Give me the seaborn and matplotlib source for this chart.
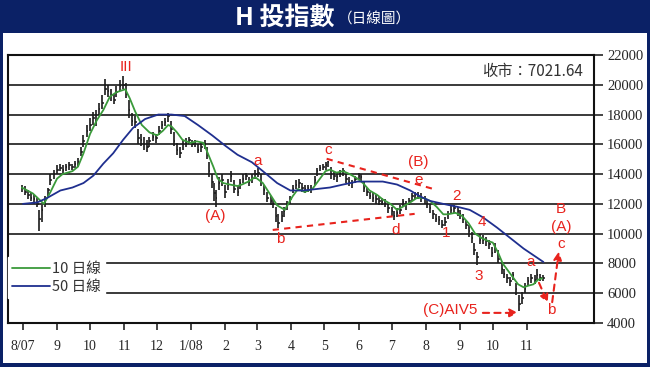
import matplotlib
matplotlib.use("Agg")
import matplotlib.pyplot as plt
import matplotlib.dates as mdates
import matplotlib.ticker as mticker
from matplotlib.patches import Rectangle
import seaborn as sns
import pandas as pd

# ── Data ──────────────────────────────────────────────────────────────────────
START = pd.Timestamp("2007-08-01")
MONTHS = pd.date_range("2007-08-01", "2008-11-01", freq="MS")

# price bars: calendar-day offset from 1 Aug 2007, close / high / low
BAR_DAY = [
    -1, 2, 5, 7, 10, 13, 15, 17, 20, 23,
    25, 28, 31, 34, 36, 39, 42, 45, 47, 50,
    53, 55, 58, 61, 64, 66, 69, 72, 75, 77,
    80, 83, 85, 88, 91, 94, 96, 99, 102, 105,
    107, 110, 113, 115, 118, 121, 124, 126, 129, 132,
    135, 137, 140, 143, 145, 148, 151, 154, 156, 159,
    162, 165, 167, 169, 172, 174, 175, 178, 181, 184,
    186, 189, 192, 195, 197, 200, 203, 205, 208, 211,
    214, 216, 219, 222, 225, 227, 230, 232, 235, 237,
    240, 243, 245, 248, 251, 254, 256, 259, 262, 265,
    267, 270, 273, 275, 277, 280, 283, 285, 288, 291,
    294, 296, 299, 302, 305, 307, 310, 313, 315, 318,
    321, 324, 326, 329, 332, 335, 337, 340, 343, 345,
    348, 351, 354, 356, 359, 362, 365, 367, 370, 373,
    375, 378, 381, 384, 386, 389, 392, 395, 397, 400,
    403, 405, 408, 410, 413, 415, 418, 421, 424, 426,
    429, 432, 435, 437, 440, 443, 445, 448, 451, 454,
    456, 459, 462, 465, 467, 470, 473,
]
BAR_CLOSE = [
    13100, 12800, 12600, 12400, 12300, 12000, 11000, 11600, 12300, 12900,
    13600, 14000, 14300, 14400, 14300, 14500, 14600, 14500, 14700, 14800,
    15500, 16200, 16900, 17300, 17800, 17600, 18400, 18800, 19700, 19600,
    19300, 19000, 19500, 19900, 20000, 19400, 18300, 17600, 17500, 16400,
    16300, 16000, 15800, 16200, 16500, 16400, 16900, 17300, 17500, 17900,
    17000, 16200, 15600, 15400, 16000, 16100, 16300, 16000, 16100, 15600,
    15800, 16000, 15300, 14200, 13500, 12700, 12400, 13400, 13600, 12800,
    13300, 13900, 13000, 12800, 13400, 13700, 13900, 13500, 13700, 14000,
    14100, 13500, 12900, 12400, 12200, 12000, 11200, 10700, 11200, 11500,
    11900, 12300, 13000, 13300, 13400, 13100, 13000, 13100, 13000, 13600,
    14200, 14400, 14500, 14600, 14800, 14000, 13900, 13800, 14100, 14200,
    13700, 13500, 13400, 13700, 13900, 13800, 13100, 12800, 12500, 12400,
    12300, 12200, 12100, 12000, 11700, 11500, 11200, 11400, 11600, 12100,
    11900, 12200, 12500, 12600, 12600, 12400, 12300, 12000, 11700, 11300,
    11000, 10900, 10600, 10800, 11300, 11600, 11700, 11500, 11300, 11000,
    10600, 10200, 9700, 8900, 8400, 9600, 9600, 9500, 9300, 8700,
    9100, 8300, 7600, 7300, 7000, 6800, 7200, 6300, 5300, 5700,
    6300, 6800, 7000, 6900, 7200, 7000, 7022,
]
BAR_HIGH = [
    13300, 13200, 12900, 12800, 12600, 12400, 11600, 11900, 12500, 13100,
    14000, 14300, 14600, 14700, 14600, 14700, 14800, 14700, 14900, 15100,
    15800, 16600, 17300, 17800, 18200, 18300, 18800, 19300, 20400, 20000,
    19700, 19400, 19900, 20300, 20600, 20100, 19000, 18100, 17900, 17000,
    16700, 16500, 16300, 16500, 16800, 16700, 17200, 17600, 17800, 18100,
    17600, 16800, 16100, 15800, 16300, 16400, 16500, 16300, 16300, 16000,
    16100, 16300, 15800, 14800, 14000, 13400, 12900, 13800, 14000, 13300,
    13700, 14200, 13600, 13200, 13700, 14000, 14100, 13800, 14000, 14300,
    14400, 14000, 13300, 12800, 12500, 12300, 11800, 11300, 11500, 11800,
    12200, 12500, 13300, 13600, 13700, 13400, 13300, 13300, 13300, 13900,
    14400, 14600, 14700, 14800, 14900, 14500, 14200, 14100, 14300, 14400,
    14000, 13800, 13600, 13900, 14100, 14000, 13500, 13100, 12800, 12700,
    12600, 12500, 12400, 12300, 12000, 11800, 11500, 11700, 11900, 12300,
    12200, 12400, 12700, 12800, 12800, 12700, 12500, 12300, 12000, 11600,
    11300, 11200, 10900, 11100, 11500, 11900, 11900, 11800, 11600, 11300,
    10900, 10600, 10100, 9400, 8800, 10000, 9900, 9800, 9600, 9100,
    9400, 8900, 8000, 7600, 7300, 7100, 7400, 6700, 5900, 6100,
    6700, 7100, 7300, 7200, 7600, 7300, 7200,
]
BAR_LOW = [
    12800, 12600, 12300, 12200, 12000, 11800, 10200, 10800, 11800, 12500,
    13300, 13700, 14000, 14200, 14100, 14200, 14300, 14300, 14400, 14500,
    15200, 15800, 16500, 16900, 17300, 17200, 18000, 18400, 19300, 19200,
    18900, 18700, 19200, 19600, 19700, 19100, 17800, 17200, 17100, 16000,
    15900, 15600, 15500, 15800, 16200, 16100, 16600, 17000, 17200, 17500,
    16700, 15900, 15300, 15100, 15600, 15800, 16000, 15800, 15800, 15400,
    15500, 15700, 15000, 13800, 13100, 12200, 11800, 12900, 13200, 12400,
    12900, 13500, 12700, 12500, 13000, 13400, 13600, 13200, 13400, 13700,
    13800, 13200, 12600, 12100, 11900, 11700, 10800, 10400, 10800, 11100,
    11600, 12000, 12700, 13000, 13100, 12800, 12700, 12800, 12700, 13300,
    13900, 14200, 14300, 14300, 14500, 13700, 13600, 13500, 13800, 13900,
    13400, 13200, 13100, 13400, 13600, 13500, 12800, 12500, 12300, 12100,
    12000, 11900, 11900, 11800, 11400, 11200, 10900, 11100, 11300, 11800,
    11600, 11900, 12200, 12300, 12300, 12100, 12000, 11700, 11400, 11000,
    10800, 10600, 10400, 10500, 11000, 11300, 11400, 11200, 11000, 10700,
    10300, 9800, 9400, 8600, 7900, 9300, 9300, 9200, 9000, 8400,
    8700, 8000, 7300, 7000, 6700, 6500, 6900, 5900, 4800, 5300,
    6000, 6500, 6700, 6600, 6900, 6800, 6800,
]

# 10-day moving average
MA10_DAY = [
    -1, 9, 19, 25, 31, 36, 45, 50, 55, 61, 67, 73, 79, 85, 93, 97, 102, 108,
    115, 122, 127, 132, 135, 140, 145, 152, 158, 164, 168, 173, 177, 182, 188,
    195, 199, 205, 211, 218, 225, 231, 238, 245, 250, 256, 263, 268, 275, 279,
    285, 291, 297, 304, 309, 315, 322, 327, 334, 340, 345, 352, 358, 364, 370,
    376, 382, 386, 393, 399, 405, 411, 417, 423, 427, 432, 436, 441, 445, 450,
    455, 459, 464, 468, 472,
]
MA10 = [
    13100, 12700, 12000, 12800, 13700, 14000, 14200, 14500, 15400, 16700,
    17600, 18300, 19200, 19500, 19700, 19100, 18200, 17300, 16800, 16600,
    16900, 17300, 17200, 16800, 16300, 16100, 16200, 16100, 15400, 14500,
    13700, 13400, 13300, 13200, 13300, 13500, 13800, 13400, 12600, 11900,
    11600, 12500, 13000, 12800, 13000, 13500, 14200, 14300, 14100, 14200,
    14000, 13700, 13400, 12900, 12600, 12300, 12000, 11600, 11800, 12100,
    12400, 12400, 12200, 11800, 11300, 11300, 11400, 11200, 10700, 10000,
    9700, 9500, 9400, 8700, 8000, 7500, 7100, 6600, 6400, 6500,
    6600, 6900, 7000,
]

# 50-day moving average
MA50_DAY = [
    0, 13, 22, 34, 45, 55, 64, 73, 82, 91, 100, 111, 123, 135, 147, 159, 172,
    184, 195, 208, 218, 231, 243, 255, 267, 279, 291, 304, 315, 327, 340, 352,
    361, 370, 382, 395, 406, 418, 431, 443, 455, 467, 473,
]
MA50 = [
    12000, 12100, 12400, 12900, 13100, 13400, 13900, 14700, 15400, 16300,
    17100, 17700, 18000, 18000, 17900, 17300, 16600, 15900, 15300, 14800,
    14200, 13400, 12900, 12900, 13000, 13100, 13300, 13500, 13500, 13500,
    13300, 12900, 12500, 12200, 12000, 11800, 11600, 11100, 10400, 9700,
    9000, 8400, 8100,
]

Y_TICKS = [4000, 6000, 8000, 10000, 12000, 14000, 16000, 18000, 20000, 22000]
LAST_CLOSE = "7021.64"

# Elliott-wave labels: (text, day offset, index level)
WAVE_LABELS = [
    ("III", 94, 21200), ("a", 213, 14900), ("(A)", 175, 11200),
    ("b", 234, 9650), ("c", 277, 15600), ("(B)", 359, 14800),
    ("e", 360, 13600), ("d", 339, 10250), ("2", 394, 12500),
    ("1", 385, 10050), ("4", 417, 10750), ("3", 414, 7150),
    ("a", 461, 8100), ("B", 489, 11650), ("(A)", 489, 10450),
    ("c", 489, 9300), ("b", 480, 4850), ("(C)AIV5", 388, 4850),
]
# dashed trend lines: (day0, level0, day1, level1)
TREND_LINES = [(276, 15030, 376, 12940), (227, 10250, 356, 11330)]
# dashed arrows: (day0, level0, day1, level1)
ARROWS = [(418, 4680, 450, 4680), (469, 6700, 477, 5350), (481, 5400, 487, 8800)]

# ── Styling ──────────────────────────────────────────────────────────────────
sns.set_style("white")
CJK = ["Noto Sans CJK TC", "DejaVu Sans"]
plt.rcParams["font.family"] = CJK
NAVY = "#0b2166"
RED = "#e8231d"
GREEN = "#3a9a3a"
BLUE = "#1f2f8f"


def day(offsets):
    return START + pd.to_timedelta(offsets, unit="D")


fig = plt.figure(figsize=(6.5, 3.67), dpi=100)
fig.patch.set_facecolor(NAVY)
fig.add_artist(Rectangle((3 / 650, 4 / 367), 644 / 650, 330 / 367,
                         transform=fig.transFigure, facecolor="white",
                         edgecolor="none", zorder=-5))
fig.text(335 / 650, 1 - 18 / 367, "H 投指數", color="white", fontsize=18,
         fontweight="heavy", ha="right", va="center", family=CJK)
fig.text(338 / 650, 1 - 19 / 367, "（日線圖）", color="white", fontsize=10.5,
         ha="left", va="center", family=CJK)

ax = fig.add_axes([8 / 650, 44 / 367, 586 / 650, 268 / 367])
ax.set_facecolor("white")

# OHLC-style bars
dates = day(BAR_DAY)
ax.vlines(dates, BAR_LOW, BAR_HIGH, color="#1a1a1a", lw=1.2, zorder=3)
ax.hlines(BAR_CLOSE, dates, dates + pd.Timedelta(days=1.3), color="#1a1a1a",
          lw=1.1, zorder=3)

sns.lineplot(x=day(MA10_DAY), y=MA10, color=GREEN, lw=1.3, ax=ax,
             label="10 日線", zorder=4)
sns.lineplot(x=day(MA50_DAY), y=MA50, color=BLUE, lw=1.3, ax=ax,
             label="50 日線", zorder=4)

# wave annotations
for text, d, lvl in WAVE_LABELS:
    ax.text(day(d), lvl, text, color=RED, fontsize=11, ha="center",
            va="center", family=["Liberation Sans", "DejaVu Sans"], zorder=6)
for d0, v0, d1, v1 in TREND_LINES:
    ax.plot([day(d0), day(d1)], [v0, v1], color=RED, lw=1.5, ls=(0, (3, 2.5)),
            zorder=5)
for d0, v0, d1, v1 in ARROWS:
    ax.annotate("", xy=(day(d1), v1), xytext=(day(d0), v0),
                arrowprops=dict(arrowstyle="-|>", color=RED, lw=1.5,
                                ls=(0, (3, 2.5)), mutation_scale=12,
                                shrinkA=0, shrinkB=0),
                zorder=5)

ax.text(0.981, 0.94, f"收市：{LAST_CLOSE}", transform=ax.transAxes,
        ha="right", va="center", fontsize=11, color="#333333", family=CJK)

# axes
ax.set_ylim(4000, 22000)
ax.set_yticks(Y_TICKS)
ax.set_xlim(START - pd.Timedelta(days=13.6), START + pd.Timedelta(days=519))
ax.yaxis.tick_right()
ax.grid(axis="y", color="#3a3a3a", lw=1.4)
ax.grid(axis="x", visible=False)
ax.set_axisbelow(True)
ax.set_xlabel("")
ax.set_ylabel("")

ax.set_xticks(MONTHS)


def month_label(v, _):
    dt = mdates.num2date(v)
    if dt.year == 2007 and dt.month == 8:
        return "8/07"
    if dt.month == 1:
        return f"1/{dt.year % 100:02d}"
    return str(dt.month)


ax.xaxis.set_major_formatter(mticker.FuncFormatter(month_label))
ax.tick_params(axis="x", direction="out", length=5, width=1.2, pad=7,
               labelsize=10, bottom=True, labelfontfamily="Liberation Serif")
ax.tick_params(axis="y", direction="out", length=6.5, width=1.2, pad=3,
               labelsize=10.5, right=True, left=False,
               labelfontfamily="Liberation Serif")
for spine in ax.spines.values():
    spine.set_visible(True)
    spine.set_color("#111111")
    spine.set_linewidth(1.5)

leg = ax.legend(loc="upper left", bbox_to_anchor=(0.0, 0.245),
                borderaxespad=0, frameon=True, fancybox=False, framealpha=1,
                facecolor="white", edgecolor="white", fontsize=10.5,
                handlelength=2.6, handletextpad=0.1, labelspacing=0.3,
                borderpad=0.3)
for t in leg.get_texts():
    t.set_color("#333333")
leg.set_zorder(7)

fig.savefig("out.png", dpi=100)
